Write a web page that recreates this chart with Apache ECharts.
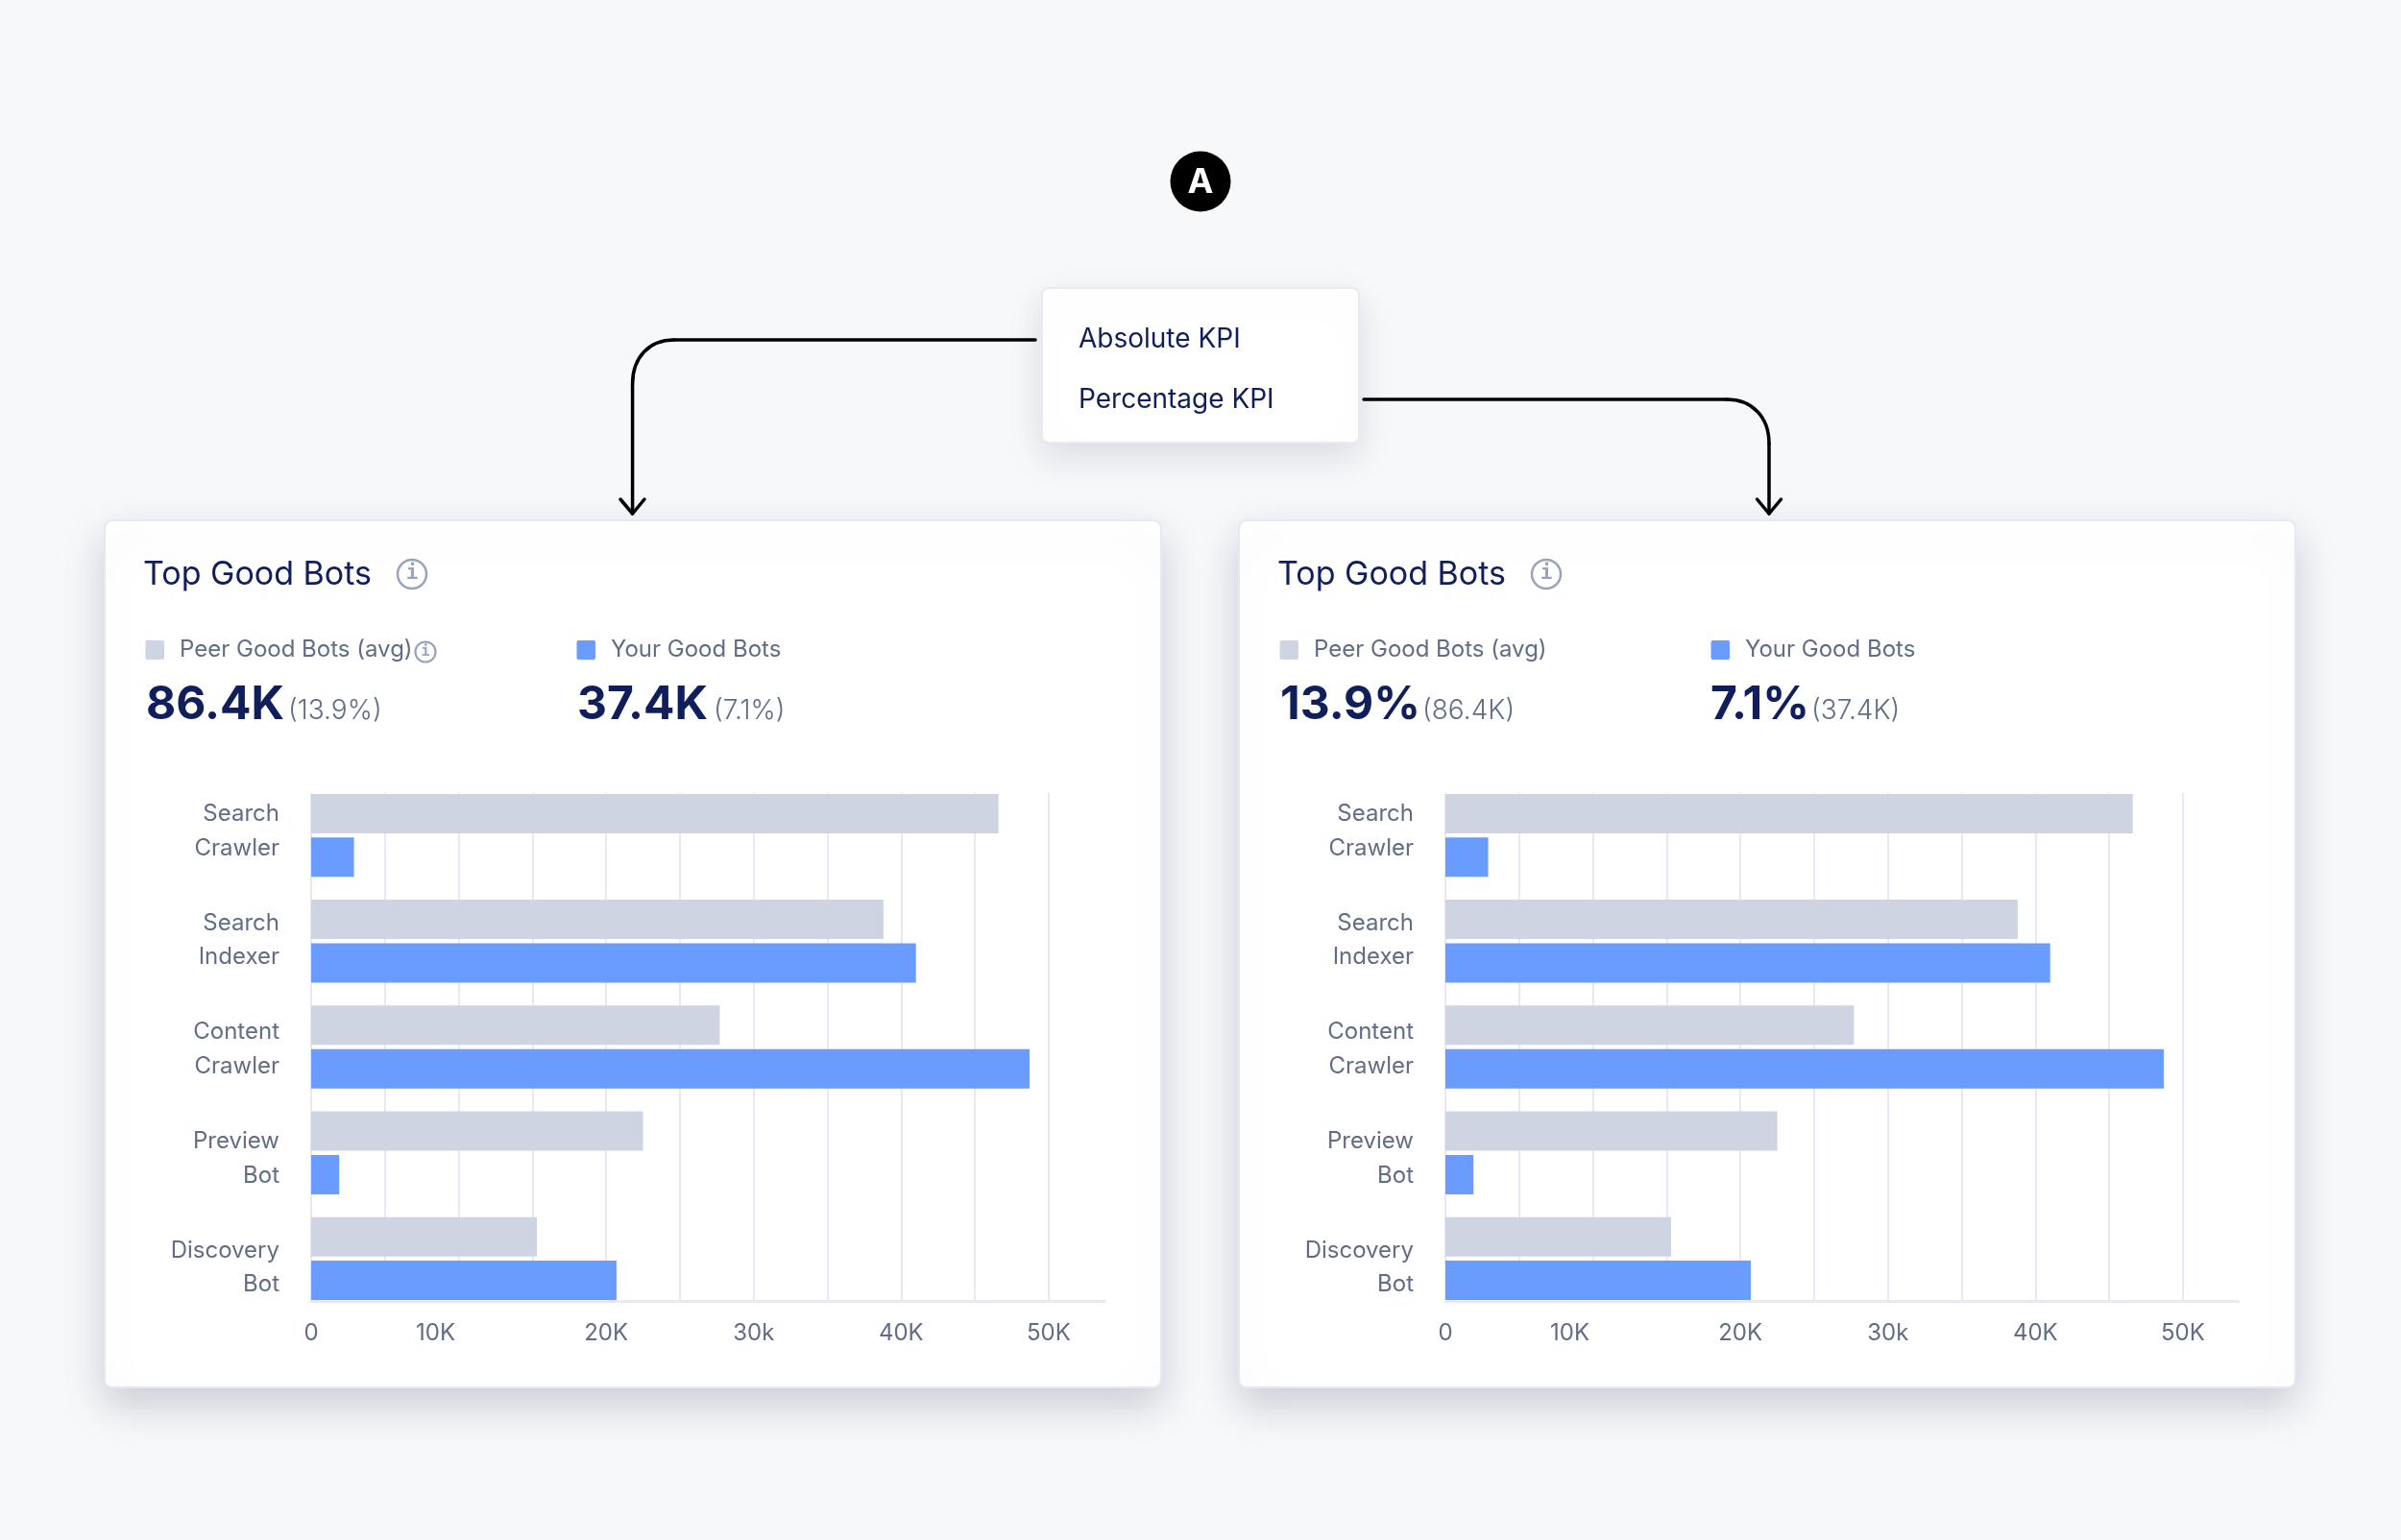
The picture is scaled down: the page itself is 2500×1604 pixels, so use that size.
<!DOCTYPE html>
<html>
<head>
<meta charset="utf-8">
<title>Top Good Bots</title>
<script src="https://cdn.jsdelivr.net/npm/echarts@6/dist/echarts.min.js"></script>
<style>
html, body { margin: 0; padding: 0; background: #f7f8fa; }
#chart { width: 2500px; height: 1604px; }
</style>
</head>
<body>
<div id="chart"></div>
<script>
// Bot traffic by category, in requests
const categories = ['Search\nCrawler', 'Search\nIndexer', 'Content\nCrawler', 'Preview\nBot', 'Discovery\nBot'];
const peerValues = [46600, 38800, 27700, 22500, 15300];
const yourValues = [2900, 41000, 48700, 1900, 20700];

// Axis marks: gridlines every 5K, labels every 10K
const gridlineValues = [0, 5000, 10000, 15000, 20000, 25000, 30000, 35000, 40000, 45000, 50000];
const tickValues = [0, 10000, 20000, 30000, 40000, 50000];
const tickLabels = ['0', '10K', '20K', '30k', '40K', '50K'];

// KPI read-outs for each card: headline and secondary figure
const absoluteKpi = ['86.4K', '(13.9%)', '37.4K', '(7.1%)'];
const percentageKpi = ['13.9%', '(86.4K)', '7.1%', '(37.4K)'];

const FONT = 'Inter, "Noto Sans", sans-serif';
const NAVY = '#101f5c';
const SLATE = '#616c87';
const PEER = '#cfd4e3';
const YOURS = '#6a9bff';
const GRIDLINE = '#e7e9f4';
const ICON = '#9aa3bd';
const AXIS_MAX = 53780;

const graphics = [];
const grids = [];
const xAxes = [];
const yAxes = [];
const series = [];

function text(x, y, str, size, weight, fill, extra) {
  graphics.push({
    type: 'text', z: 5,
    style: Object.assign({
      x, y, text: str, fill,
      font: weight + ' ' + size + 'px ' + FONT,
      textVerticalAlign: 'middle', textAlign: 'left'
    }, extra || {})
  });
}

function infoIcon(cx, cy, r, lineWidth, size) {
  graphics.push({
    type: 'circle', z: 5,
    shape: { cx, cy, r },
    style: { fill: 'none', stroke: ICON, lineWidth }
  });
  text(cx, cy, 'i', size, 700, ICON, {
    textAlign: 'center',
    font: '700 ' + size + 'px "DejaVu Sans Mono", monospace'
  });
}

function stroke(type, shape) {
  graphics.push({
    type, z: 3, shape,
    style: { fill: 'none', stroke: '#000', lineWidth: 3.5, lineCap: 'round', lineJoin: 'round' }
  });
}

function card(dx, kpi, xSecondA, xB, xSecondB, withPeerInfo) {
  graphics.push({
    type: 'rect', z: -10,
    shape: { x: 109 + dx, y: 542, width: 1100, height: 903, r: 8 },
    style: {
      fill: '#fff', stroke: '#e6e8f3', lineWidth: 2,
      shadowBlur: 44, shadowOffsetY: 18, shadowColor: 'rgba(25,35,70,0.20)'
    }
  });

  text(149 + dx, 599, 'Top Good Bots', 34, 400, NAVY);
  infoIcon(429 + dx, 598, 15, 2.5, 21);

  graphics.push({ type: 'rect', z: 5, shape: { x: 151.5 + dx, y: 667, width: 19.5, height: 20, r: 2 }, style: { fill: PEER } });
  text(187 + dx, 677, 'Peer Good Bots (avg)', 24, 400, SLATE);
  if (withPeerInfo) infoIcon(443 + dx, 679, 10.5, 2.2, 15);

  graphics.push({ type: 'rect', z: 5, shape: { x: 600.5 + dx, y: 667, width: 19.5, height: 20, r: 2 }, style: { fill: YOURS } });
  text(636 + dx, 677, 'Your Good Bots', 24, 400, SLATE);

  text(152 + dx, 735, kpi[0], 48, 700, NAVY);
  text(xSecondA + dx, 741, kpi[1], 28, 300, SLATE);
  text(xB + dx, 735, kpi[2], 48, 700, NAVY);
  text(xSecondB + dx, 741, kpi[3], 28, 300, SLATE);

  // Axis layer: gridlines, baseline and value labels
  const axisIndex = grids.length;
  grids.push({ left: 324 + dx, top: 826, width: 826, height: 529 });
  xAxes.push({
    type: 'value', gridIndex: axisIndex, min: 0, max: AXIS_MAX,
    axisLine: { show: true, onZero: false, lineStyle: { color: GRIDLINE, width: 3 } },
    axisTick: { show: false, customValues: gridlineValues },
    splitLine: { show: true, lineStyle: { color: GRIDLINE, width: 2 } },
    axisLabel: {
      customValues: tickValues,
      margin: 22,
      color: SLATE, fontFamily: FONT, fontSize: 24,
      formatter: v => {
        const label = tickLabels[tickValues.indexOf(v)];
        return v === 10000 ? '{shifted|' + label + '}' : label;
      },
      rich: { shifted: { color: SLATE, fontFamily: FONT, fontSize: 24, padding: [0, 48, 0, 0] } }
    }
  });
  yAxes.push({
    type: 'category', gridIndex: axisIndex, data: categories, inverse: true,
    axisLine: { show: false }, axisTick: { show: false }, axisLabel: { show: false }, splitLine: { show: false }
  });

  // Bar layer
  const barIndex = grids.length;
  grids.push({ left: 324 + dx, top: 815, width: 826, height: 551 });
  xAxes.push({ type: 'value', gridIndex: barIndex, min: 0, max: AXIS_MAX, show: false, splitLine: { show: false } });
  yAxes.push({
    type: 'category', gridIndex: barIndex, data: categories, inverse: true, show: false,
    axisLine: { show: false }, axisTick: { show: false }
  });
  const barStyle = { type: 'bar', xAxisIndex: barIndex, yAxisIndex: barIndex, barWidth: 41, barGap: '10.7%', silent: true, animation: false };
  series.push(Object.assign({ name: 'Peer Good Bots (avg)', data: peerValues, itemStyle: { color: PEER } }, barStyle));
  series.push(Object.assign({ name: 'Your Good Bots', data: yourValues, itemStyle: { color: YOURS } }, barStyle));

  // Category label layer
  const labelIndex = grids.length;
  grids.push({ left: 324 + dx, top: 809, width: 826, height: 568 });
  xAxes.push({ type: 'value', gridIndex: labelIndex, min: 0, max: AXIS_MAX, show: false, splitLine: { show: false } });
  yAxes.push({
    type: 'category', gridIndex: labelIndex, data: categories, inverse: true,
    axisLine: { show: false }, axisTick: { show: false },
    axisLabel: { margin: 33, color: SLATE, fontFamily: FONT, fontSize: 24, lineHeight: 35.5, align: 'right' }
  });
}

card(0, absoluteKpi, 300, 601, 743, true);
card(1181, percentageKpi, 300, 600, 705, false);

// Section badge
graphics.push({ type: 'circle', z: 5, shape: { cx: 1250, cy: 189, r: 31.5 }, style: { fill: '#000' } });
text(1250, 190, 'A', 36, 700, '#fff', { textAlign: 'center' });

// KPI menu
graphics.push({
  type: 'rect', z: 4,
  shape: { x: 1085, y: 300, width: 330, height: 161, r: 7 },
  style: {
    fill: '#fff', stroke: '#e8eaf4', lineWidth: 2,
    shadowBlur: 36, shadowOffsetY: 14, shadowColor: 'rgba(25,35,70,0.13)'
  }
});
text(1123, 354, 'Absolute KPI', 28, 400, NAVY);
text(1123, 417, 'Percentage KPI', 28, 400, NAVY);

// Connectors from the menu down to each card
stroke('line', { x1: 1078, y1: 354, x2: 702, y2: 354 });
stroke('bezierCurve', { x1: 702, y1: 354, cpx1: 676, cpy1: 354, cpx2: 658.6, cpy2: 372, x2: 658.6, y2: 400 });
stroke('line', { x1: 658.6, y1: 400, x2: 658.6, y2: 535 });
stroke('polyline', { points: [[646, 520], [658.6, 535], [671, 520]] });

stroke('line', { x1: 1420, y1: 416, x2: 1798, y2: 416 });
stroke('bezierCurve', { x1: 1798, y1: 416, cpx1: 1824, cpy1: 416, cpx2: 1842, cpy2: 434, x2: 1842, y2: 462 });
stroke('line', { x1: 1842, y1: 462, x2: 1842, y2: 535 });
stroke('polyline', { points: [[1829.5, 520], [1842, 535], [1854.5, 520]] });

const chart = echarts.init(document.getElementById('chart'), null, { renderer: 'canvas' });
chart.setOption({
  backgroundColor: '#f7f8fa',
  animation: false,
  tooltip: { show: false },
  graphic: { elements: graphics },
  grid: grids,
  xAxis: xAxes,
  yAxis: yAxes,
  series
});
</script>
</body>
</html>
